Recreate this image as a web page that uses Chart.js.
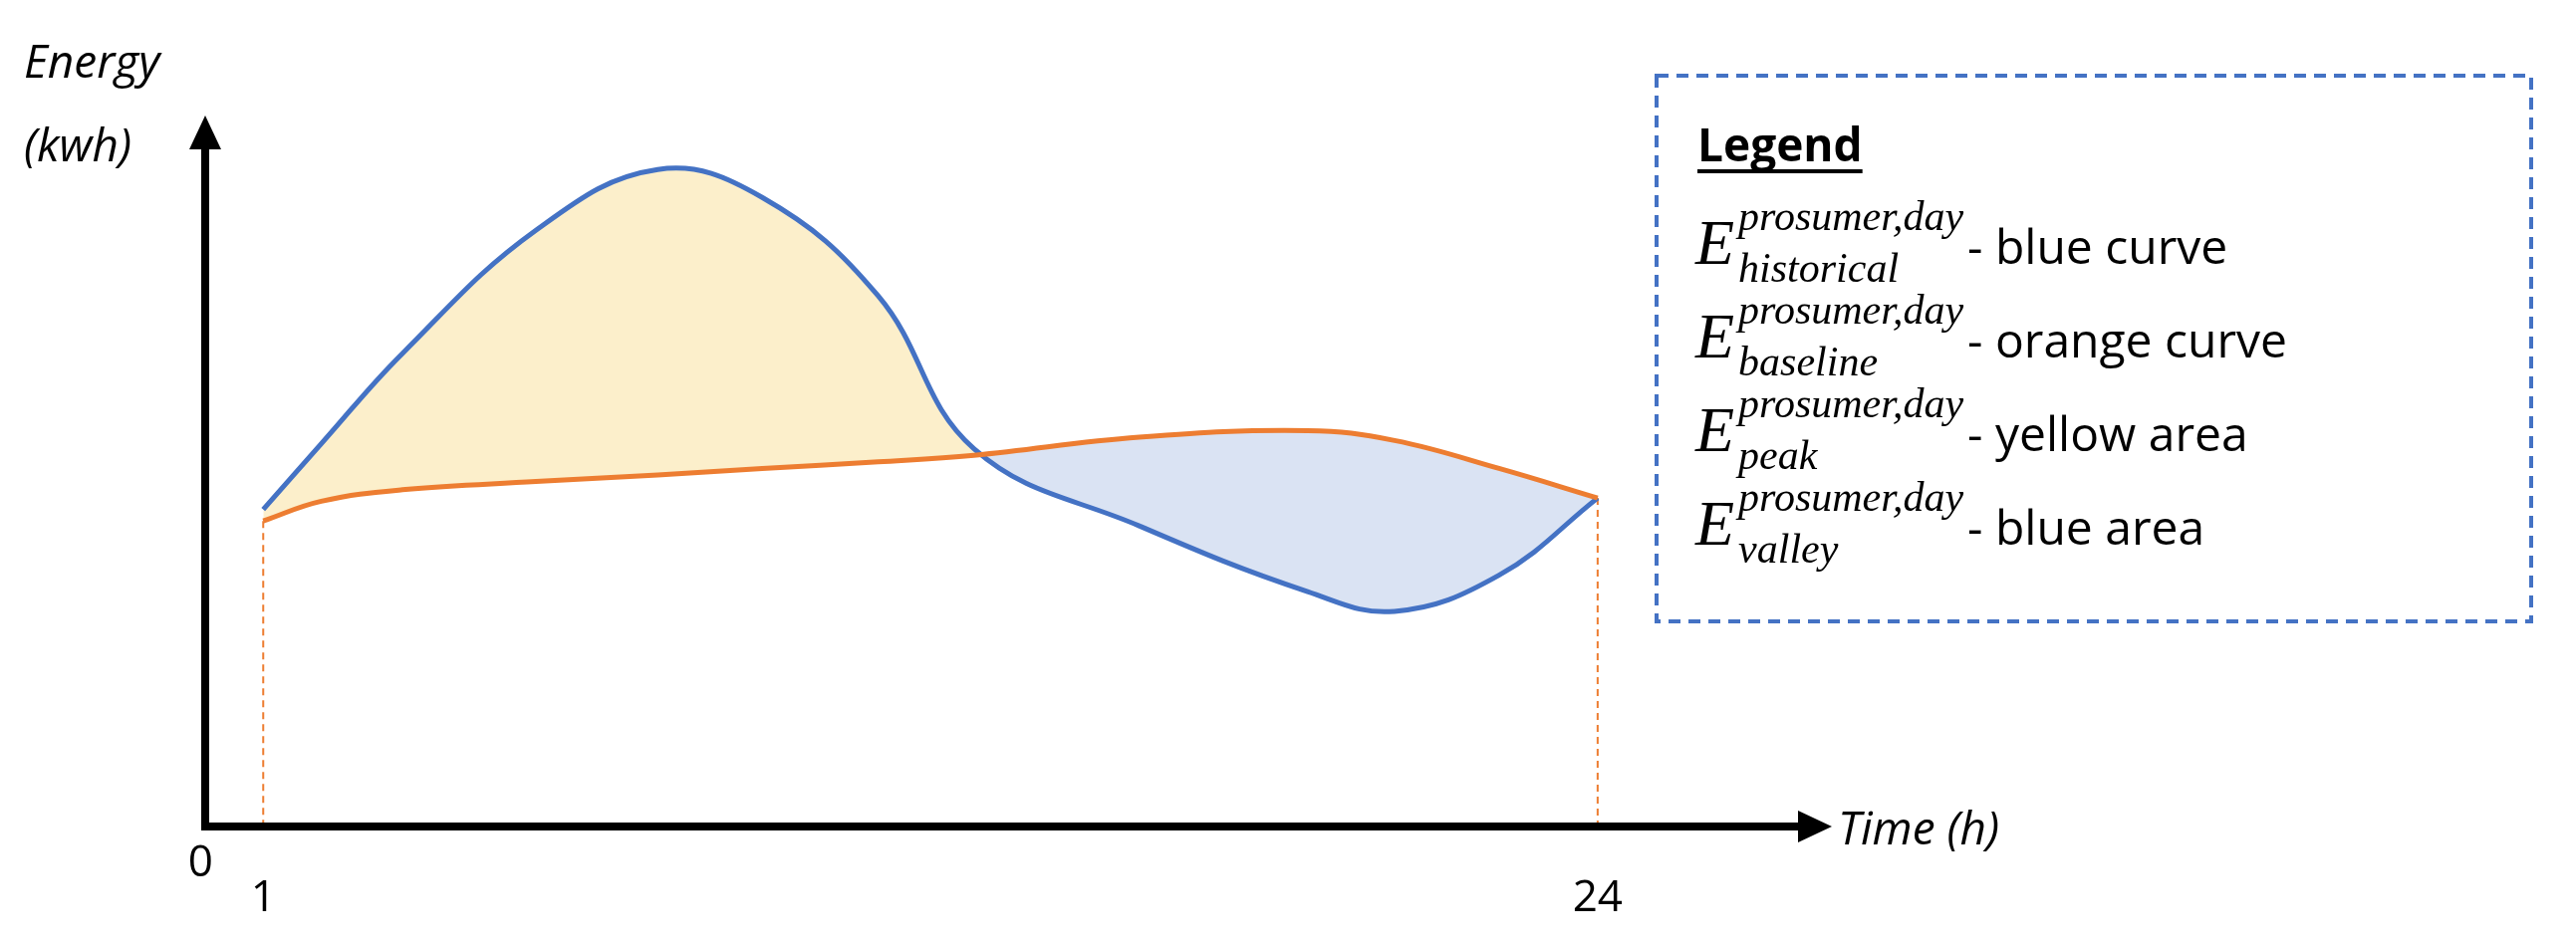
<!DOCTYPE html>
<html lang="en">
<head>
<meta charset="UTF-8">
<title>Prosumer energy profile</title>
<script src="https://cdn.jsdelivr.net/npm/chart.js"></script>
<style>
  html, body { margin: 0; padding: 0; background: #fff; }
  #wrap { width: 2586px; height: 950px; }
</style>
</head>
<body>
<div id="wrap"><canvas id="c"></canvas></div>
<script>
// data (arbitrary energy units)
var hours      = [1, 2, 3.4, 5.7, 7.8, 9.6, 11.6, 13.25, 16.1, 19, 20.5, 22.3, 24];
var historical = [19.3, 23.3, 28.8, 36.3, 40, 38.3, 32.3, 23.0, 18.3, 14.3, 13.1, 15.3, 20];
var baseline   = [18.6, 19.8, 20.5, 21.0, 21.4, 21.8, 22.2, 22.6, 23.7, 24.1, 23.5, 21.8, 20];
var tickValues = [1, 24];
var tickLabels = ['1', '24'];
var legendRows = [
  { sub: 'historical', text: '- blue curve' },
  { sub: 'baseline', text: '- orange curve' },
  { sub: 'peak', text: '- yellow area' },
  { sub: 'valley', text: '- blue area' }
];

var blue = '#4472C4', orange = '#ED7D31';

function pts(ys) { return hours.map(function (h, i) { return { x: h, y: ys[i] }; }); }

// axes, arrows, labels and the legend box
var decor = {
  id: 'decor',
  beforeDatasetsDraw: function (chart) {
    var ctx = chart.ctx, xs = chart.scales.x, ys = chart.scales.y;
    var y0 = ys.getPixelForValue(0);
    ctx.save();
    // dashed drop lines at hour 1 and 24
    ctx.strokeStyle = orange; ctx.lineWidth = 2; ctx.setLineDash([7, 5]);
    [[hours[0], baseline[0]], [hours[hours.length - 1], baseline[baseline.length - 1]]].forEach(function (p) {
      var px = xs.getPixelForValue(p[0]);
      ctx.beginPath(); ctx.moveTo(px, ys.getPixelForValue(p[1])); ctx.lineTo(px, y0); ctx.stroke();
    });
    ctx.restore();
  },
  afterDraw: function (chart) {
    var ctx = chart.ctx, xs = chart.scales.x, ys = chart.scales.y;
    var x0 = xs.getPixelForValue(0), y0 = ys.getPixelForValue(0);
    var xEnd = xs.right, yTop = ys.top;
    ctx.save();
    ctx.strokeStyle = '#000'; ctx.fillStyle = '#000'; ctx.lineWidth = 8;
    ctx.beginPath(); ctx.moveTo(x0, y0); ctx.lineTo(xEnd - 20, y0); ctx.stroke();
    ctx.beginPath(); ctx.moveTo(x0, y0 + 4); ctx.lineTo(x0, yTop + 20); ctx.stroke();
    ctx.beginPath(); ctx.moveTo(xEnd + 8, y0); ctx.lineTo(xEnd - 26, y0 - 16); ctx.lineTo(xEnd - 26, y0 + 16); ctx.closePath(); ctx.fill();
    ctx.beginPath(); ctx.moveTo(x0, yTop - 8); ctx.lineTo(x0 - 16, yTop + 26); ctx.lineTo(x0 + 16, yTop + 26); ctx.closePath(); ctx.fill();

    // tick labels
    ctx.font = '44px "Open Sans"'; ctx.textAlign = 'center'; ctx.textBaseline = 'alphabetic';
    tickValues.forEach(function (v, i) { ctx.fillText(tickLabels[i], xs.getPixelForValue(v), 915); });
    ctx.textAlign = 'right'; ctx.fillText('0', x0 + 8, 880);

    // axis titles
    ctx.textAlign = 'left'; ctx.font = 'italic 46px "Open Sans"';
    ctx.fillText('Energy', 24, 78);
    ctx.fillText('(kwh)', 24, 162);
    ctx.fillText('Time (h)', xEnd + 14, 848);

    // legend box
    ctx.strokeStyle = blue; ctx.lineWidth = 4; ctx.setLineDash([12, 8]);
    ctx.strokeRect(1663, 76, 878, 548);
    ctx.setLineDash([]);
    ctx.font = 'bold 46px "Open Sans"'; ctx.fillStyle = '#000';
    ctx.fillText('Legend', 1704, 162);
    var w = ctx.measureText('Legend').width;
    ctx.fillRect(1704, 170, w, 4);
    legendRows.forEach(function (r, i) {
      var by = 265 + i * 94;
      ctx.font = 'italic 64px "Liberation Serif"';
      ctx.fillText('E', 1702, by);
      var ex = 1702 + ctx.measureText('E').width + 4;
      ctx.font = 'italic 42px "Liberation Serif"';
      ctx.fillText('prosumer,day', ex, by - 34);
      ctx.fillText(r.sub, ex, by + 18);
      var end = ex + Math.max(ctx.measureText('prosumer,day').width, ctx.measureText(r.sub).width);
      ctx.font = '48px "Open Sans"';
      ctx.fillText(r.text, end + 4, by);
    });
    ctx.restore();
  }
};

new Chart(document.getElementById('c'), {
  type: 'line',
  data: {
    datasets: [
      {
        label: 'historical',
        data: pts(historical),
        borderColor: blue, borderWidth: 5, pointRadius: 0,
        tension: 0.4,
        fill: { target: 1, above: '#FCEFCB', below: '#DAE3F3' },
        order: 1
      },
      {
        label: 'baseline',
        data: pts(baseline),
        borderColor: orange, borderWidth: 5, pointRadius: 0,
        tension: 0.4,
        fill: false,
        order: 0
      }
    ]
  },
  options: {
    responsive: true,
    maintainAspectRatio: false,
    animation: false,
    layout: { padding: { left: 206, right: 755, top: 124, bottom: 120 } },
    plugins: { legend: { display: false }, tooltip: { enabled: false } },
    scales: {
      x: { type: 'linear', min: 0, max: 27.9, display: false },
      y: { type: 'linear', min: 0, max: 42.8, display: false }
    }
  },
  plugins: [decor]
});
</script>
</body>
</html>
